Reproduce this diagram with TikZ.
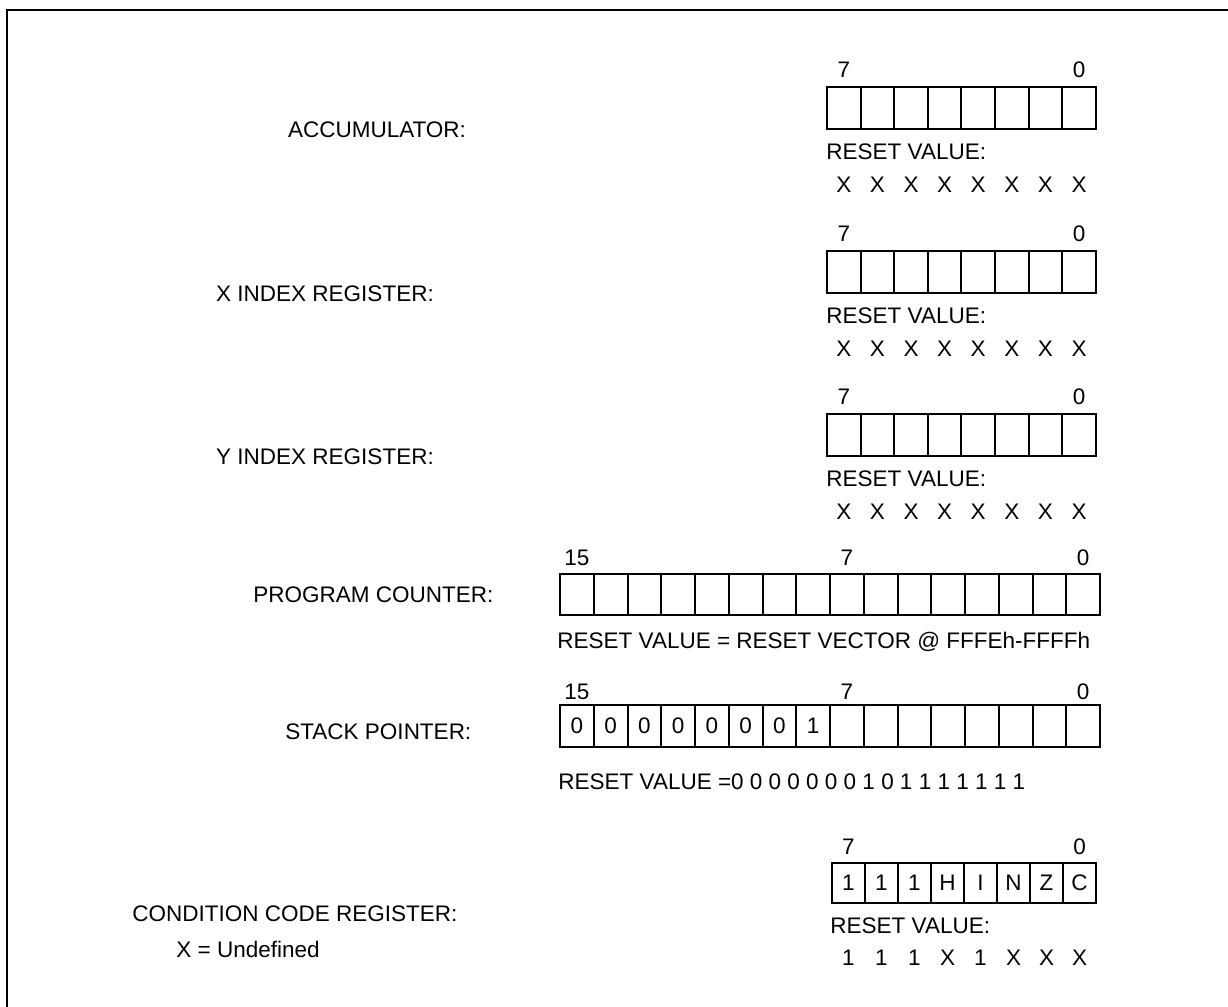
\documentclass[tikz,border=0pt]{standalone}
\usepackage{fontspec}
\setmainfont{Liberation Sans}
\usetikzlibrary{positioning}
\definecolor{RegInk}{HTML}{000000}

\tikzset{
  regtxt/.style={inner sep=0pt, text=RegInk, font=\fontsize{11.25}{13.5}\selectfont},
  regcell/.style={regtxt, draw=RegInk, line width=1pt, minimum width=16.8pt, minimum height=21pt, anchor=north west},
}

\begin{document}
\begin{tikzpicture}[x=0.5pt, y=-0.5pt]
  \useasboundingbox (0,0) rectangle (1228,1007);
  \draw[RegInk, line width=1pt] (7,1012) -- (7,10) -- (1232,10);

  % 8-bit registers
  \foreach \r/\y/\lx/\t in {acc/86/377/ACCUMULATOR:, xir/250/325/X INDEX REGISTER:, yir/413/325/Y INDEX REGISTER:}{
    \foreach \i in {0,...,7}{
      \node[regcell] (\r-\i) at (826+33.6*\i,\y) {};
      \node[regtxt, below=23.5pt of \r-\i] (\r-v\i) {X};
    }
    \node[regtxt, above=4pt of \r-0] (\r-hi) {7};
    \node[regtxt, above=4pt of \r-7] (\r-lo) {0};
    \node[regtxt, below right=6.5pt and 0pt of \r-0.south west] (\r-rst) {RESET VALUE:};
    \node[regtxt] (\r-name) at (\lx,\y+44) {\t};
  }

  % program counter
  \foreach \i in {0,...,15}
    \node[regcell, minimum width=16.875pt, minimum height=20.5pt] (pc-\i) at (559+33.75*\i,573) {};
  \node[regtxt, above=3.5pt of pc-0] (pc-hi) {15};
  \node[regtxt, above=3.5pt of pc-8] (pc-mid) {7};
  \node[regtxt, above=3.5pt of pc-15] (pc-lo) {0};
  \node[regtxt, below right=8pt and -1pt of pc-0.south west] (pc-rst) {RESET VALUE = RESET VECTOR @ FFFEh-FFFFh};
  \node[regtxt, anchor=west] (pc-name) at (253,595) {PROGRAM COUNTER:};

  % stack pointer
  \foreach \b [count=\i from 0] in {0,0,0,0,0,0,0,1}
    \node[regcell, minimum width=16.875pt] (sp-\i) at (559+33.75*\i,704) {\b};
  \foreach \i in {8,...,15}
    \node[regcell, minimum width=16.875pt] (sp-\i) at (559+33.75*\i,704) {};
  \node[regtxt, above=2pt of sp-0] (sp-hi) {15};
  \node[regtxt, above=2pt of sp-8] (sp-mid) {7};
  \node[regtxt, above=2pt of sp-15] (sp-lo) {0};
  \node[regtxt, below right=12.5pt and -0.5pt of sp-0.south west] (sp-rst) {RESET VALUE =0 0 0 0 0 0 0 1 0 1 1 1 1 1 1 1};
  \node[regtxt, anchor=west] (sp-name) at (285,732) {STACK POINTER:};

  % condition code register
  \foreach \b/\v [count=\i from 0] in {1/1, 1/1, 1/1, H/X, I/1, N/X, Z/X, C/X}{
    \node[regcell, minimum width=16.5pt, minimum height=20pt] (ccr-\i) at (831+33*\i,862) {\b};
    \node[regtxt, below=23pt of ccr-\i] (ccr-v\i) {\v};
  }
  \node[regtxt, above=3.5pt of ccr-0] (ccr-hi) {7};
  \node[regtxt, above=3.5pt of ccr-7] (ccr-lo) {0};
  \node[regtxt, below right=6.5pt and -0.5pt of ccr-0.south west] (ccr-rst) {RESET VALUE:};
  \node[regtxt, anchor=west] (ccr-name) at (132,914) {CONDITION CODE REGISTER:};
  \node[regtxt, anchor=west] (undef) at (176,949) {X = Undefined};
\end{tikzpicture}
\end{document}
